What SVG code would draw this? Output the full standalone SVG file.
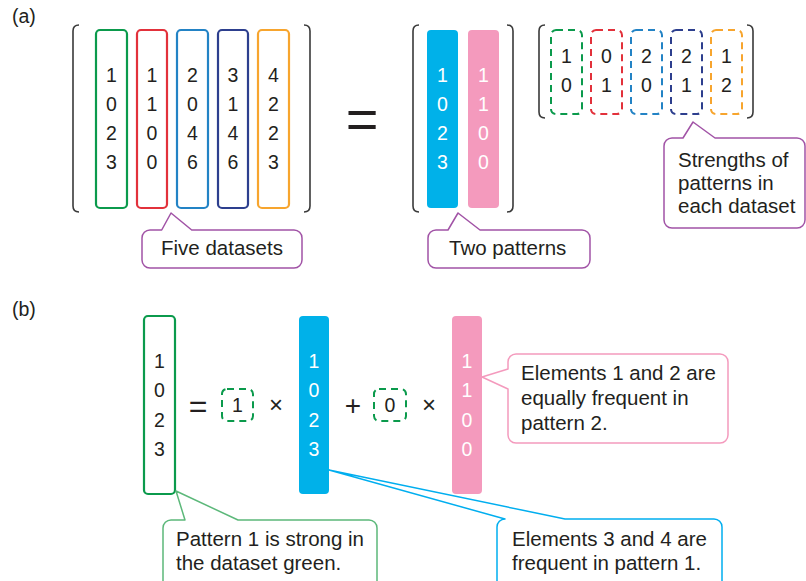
<svg xmlns="http://www.w3.org/2000/svg" width="806" height="581" viewBox="0 0 806 581">
  <style>
    text { font-family: "Liberation Sans", Arial, sans-serif; fill: #231f20; }
    .num { font-size: 19.5px; text-anchor: middle; }
    .wnum { font-size: 19.5px; text-anchor: middle; fill: #ffffff; }
    .lbl { font-size: 19.5px; }
    .note { font-size: 20.5px; }
    .op { text-anchor: middle; }
    .col { fill: none; stroke-width: 2.2; }
    .dash { fill: none; stroke-width: 2; stroke-dasharray: 7 5; }
    .bracket { fill: none; stroke: #3a3a3a; stroke-width: 1.6; }
    .callout { fill: #ffffff; stroke-width: 1.5; stroke-linejoin: round; }
    .green { stroke: #0b9a4c; }
    .red { stroke: #e2313b; }
    .blue { stroke: #2383c5; }
    .navy { stroke: #2d3f8e; }
    .orange { stroke: #f7a52e; }
  </style>

  <!-- panel labels -->
  <text class="lbl" x="12" y="23">(a)</text>
  <text class="lbl" x="12" y="316">(b)</text>

  <!-- (a) data matrix: five datasets -->
  <g id="data-matrix">
    <path class="bracket" d="M79,25 Q73,25 73,31 V206 Q73,212 79,212"/>
    <path class="bracket" d="M304,25 Q310,25 310,31 V206 Q310,212 304,212"/>
    <rect class="col green" x="96" y="30" width="31" height="178" rx="4"/>
    <rect class="col red" x="137" y="30" width="30" height="178" rx="4"/>
    <rect class="col blue" x="177" y="30" width="31" height="178" rx="4"/>
    <rect class="col navy" x="218" y="30" width="30" height="178" rx="4"/>
    <rect class="col orange" x="258" y="30" width="31" height="178" rx="4"/>
    <g class="cells">
      <text class="num" x="111.5" y="82">1</text><text class="num" x="111.5" y="111">0</text><text class="num" x="111.5" y="140">2</text><text class="num" x="111.5" y="169">3</text>
      <text class="num" x="152" y="82">1</text><text class="num" x="152" y="111">1</text><text class="num" x="152" y="140">0</text><text class="num" x="152" y="169">0</text>
      <text class="num" x="192.5" y="82">2</text><text class="num" x="192.5" y="111">0</text><text class="num" x="192.5" y="140">4</text><text class="num" x="192.5" y="169">6</text>
      <text class="num" x="233" y="82">3</text><text class="num" x="233" y="111">1</text><text class="num" x="233" y="140">4</text><text class="num" x="233" y="169">6</text>
      <text class="num" x="273.5" y="82">4</text><text class="num" x="273.5" y="111">2</text><text class="num" x="273.5" y="140">2</text><text class="num" x="273.5" y="169">3</text>
    </g>
  </g>

  <text class="op" x="362" y="138" font-size="56">=</text>

  <!-- (a) pattern matrix -->
  <g id="pattern-matrix">
    <path class="bracket" d="M419,25 Q413,25 413,31 V206 Q413,212 419,212"/>
    <path class="bracket" d="M507,25 Q513,25 513,31 V206 Q513,212 507,212"/>
    <rect x="427" y="30" width="31" height="178" rx="4" fill="#00b1e9"/>
    <rect x="468" y="30" width="31" height="178" rx="4" fill="#f49abd"/>
    <text class="wnum" x="442.5" y="82">1</text><text class="wnum" x="442.5" y="111">0</text><text class="wnum" x="442.5" y="140">2</text><text class="wnum" x="442.5" y="169">3</text>
    <text class="wnum" x="483.5" y="82">1</text><text class="wnum" x="483.5" y="111">1</text><text class="wnum" x="483.5" y="140">0</text><text class="wnum" x="483.5" y="169">0</text>
  </g>

  <!-- (a) strength matrix -->
  <g id="strength-matrix">
    <path class="bracket" d="M545,25 Q539,25 539,31 V112 Q539,118 545,118"/>
    <path class="bracket" d="M747,25 Q753,25 753,31 V112 Q753,118 747,118"/>
    <rect class="dash green" x="551" y="30" width="31" height="84" rx="5"/>
    <rect class="dash red" x="591" y="30" width="31" height="84" rx="5"/>
    <rect class="dash blue" x="631" y="30" width="31" height="84" rx="5"/>
    <rect class="dash navy" x="671" y="30" width="31" height="84" rx="5"/>
    <rect class="dash orange" x="711" y="30" width="31" height="84" rx="5"/>
    <text class="num" x="566.5" y="63">1</text><text class="num" x="566.5" y="92">0</text>
    <text class="num" x="606.5" y="63">0</text><text class="num" x="606.5" y="92">1</text>
    <text class="num" x="646.5" y="63">2</text><text class="num" x="646.5" y="92">0</text>
    <text class="num" x="686.5" y="63">2</text><text class="num" x="686.5" y="92">1</text>
    <text class="num" x="726.5" y="63">1</text><text class="num" x="726.5" y="92">2</text>
  </g>

  <!-- (b) decomposition of the green dataset -->
  <g id="green-dataset">
    <rect class="col green" x="144" y="316" width="31" height="178" rx="4"/>
    <text class="num" x="159.5" y="368">1</text><text class="num" x="159.5" y="397">0</text><text class="num" x="159.5" y="427">2</text><text class="num" x="159.5" y="456">3</text>
  </g>
  <text class="op" x="198" y="417" font-size="32">=</text>
  <g id="weight-1">
    <rect class="dash green" x="222" y="389" width="31" height="32" rx="5"/>
    <text class="num" x="237.5" y="412">1</text>
  </g>
  <text class="op" x="276" y="413" font-size="24">×</text>
  <g id="pattern-1">
    <rect x="299" y="316" width="30" height="178" rx="4" fill="#00b1e9"/>
    <text class="wnum" x="314" y="368">1</text><text class="wnum" x="314" y="397">0</text><text class="wnum" x="314" y="427">2</text><text class="wnum" x="314" y="456">3</text>
  </g>
  <text class="op" x="353" y="415" font-size="28">+</text>
  <g id="weight-2">
    <rect class="dash green" x="374" y="389" width="32" height="32" rx="5"/>
    <text class="num" x="390" y="412">0</text>
  </g>
  <text class="op" x="429" y="413" font-size="24">×</text>
  <g id="pattern-2">
    <rect x="452" y="316" width="30" height="178" rx="4" fill="#f49abd"/>
    <text class="wnum" x="467" y="368">1</text><text class="wnum" x="467" y="397">1</text><text class="wnum" x="467" y="427">0</text><text class="wnum" x="467" y="456">0</text>
  </g>

  <!-- callouts; each outline includes its pointer -->
  <g id="connectors">
    <g id="note-five-datasets">
      <path class="callout" stroke="#a153a6" d="M150,230 H161.7 L171,213 L191.7,230 H294 A8,8 0 0 1 302,238 V260 A8,8 0 0 1 294,268 H150 A8,8 0 0 1 142,260 V238 A8,8 0 0 1 150,230 Z"/>
      <text class="note" x="161" y="255">Five datasets</text>
    </g>
    <g id="note-two-patterns">
      <path class="callout" stroke="#a153a6" d="M436,230 H448 L458,213 L480,230 H582 A8,8 0 0 1 590,238 V260 A8,8 0 0 1 582,268 H436 A8,8 0 0 1 428,260 V238 A8,8 0 0 1 436,230 Z"/>
      <text class="note" x="449" y="255">Two patterns</text>
    </g>
    <g id="note-strengths">
      <path class="callout" stroke="#a153a6" d="M672,138 H683 L693,122 L715,138 H797 A8,8 0 0 1 805,146 V220 A8,8 0 0 1 797,228 H672 A8,8 0 0 1 664,220 V146 A8,8 0 0 1 672,138 Z"/>
      <text class="note" x="678" y="167">Strengths of</text>
      <text class="note" x="678" y="190">patterns in</text>
      <text class="note" x="678" y="213">each dataset</text>
    </g>
    <g id="note-pattern-2">
      <path class="callout" stroke="#f49abd" stroke-width="1.3" d="M516,354 H720 A8,8 0 0 1 728,362 V435 A8,8 0 0 1 720,443 H516 A8,8 0 0 1 508,435 V389 L482,377 L508,369 V362 A8,8 0 0 1 516,354 Z"/>
      <text class="note" x="521" y="380">Elements 1 and 2 are</text>
      <text class="note" x="521" y="405">equally frequent in</text>
      <text class="note" x="521" y="430">pattern 2.</text>
    </g>
    <g id="note-green">
      <path class="callout" stroke="#5cb87a" stroke-width="1.3" d="M171,520 H185 L176,491 L238,520 H369 A8,8 0 0 1 377,528 V590 H163 V528 A8,8 0 0 1 171,520 Z"/>
      <text class="note" x="176" y="546">Pattern 1 is strong in</text>
      <text class="note" x="176" y="570">the dataset green.</text>
    </g>
    <g id="note-pattern-1">
      <path class="callout" stroke="#00aeef" stroke-width="1.3" d="M505,519 L329,470 L565,519 H714 A8,8 0 0 1 722,527 V590 H497 V527 A8,8 0 0 1 505,519 Z"/>
      <text class="note" x="512" y="546">Elements 3 and 4 are</text>
      <text class="note" x="512" y="570">frequent in pattern 1.</text>
    </g>
  </g>
</svg>
